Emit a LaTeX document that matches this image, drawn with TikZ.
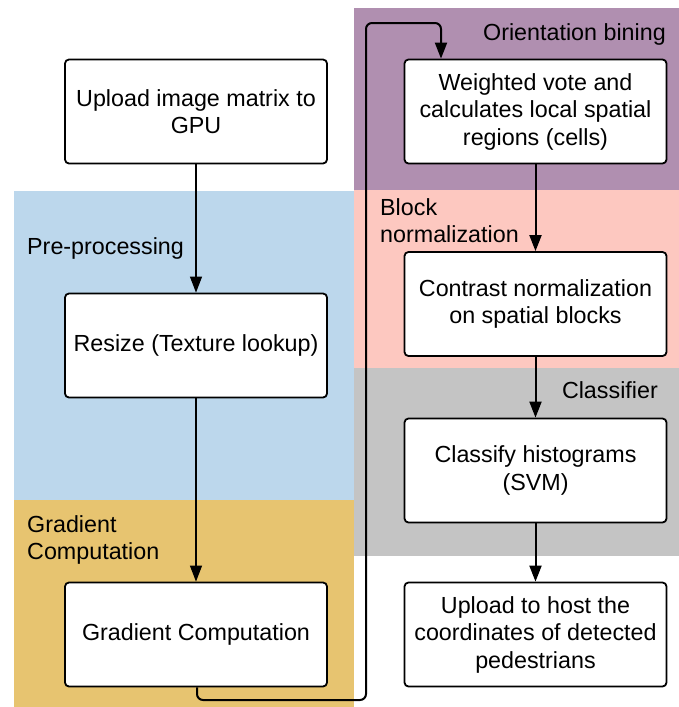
\documentclass[tikz,border=0pt]{standalone}
\usepackage{fontspec}
\setmainfont{Liberation Sans}
\usetikzlibrary{arrows.meta}

\definecolor{zoneblue}{RGB}{188,215,236}
\definecolor{zonegold}{RGB}{231,196,112}
\definecolor{zonepurple}{RGB}{176,143,176}
\definecolor{zonepink}{RGB}{253,200,192}
\definecolor{zonegray}{RGB}{196,196,196}

\begin{document}
\begin{tikzpicture}[x=1pt,y=-1pt,
  txt/.style={font=\fontsize{23.3}{27.5}\selectfont},
  stagebox/.style={txt, draw=black, line width=1.8pt, rounded corners=4pt,
    fill=white, minimum width=262pt, minimum height=104pt, align=center,
    inner sep=0pt},
  zonelabel/.style={txt, inner sep=0pt, align=left},
  flowthin/.style={line width=1.2pt, -{Triangle[width=12pt,length=16pt]}},
  flowthick/.style={line width=2pt, -{Triangle[width=12pt,length=16pt]}},
]
% canvas
\useasboundingbox (0,0) rectangle (679,707);
\fill[white] (0,0) rectangle (679,707);

% coloured zones
\fill[zoneblue]   (14,191) rectangle (354,500);
\fill[zonegold]   (14,500) rectangle (354,707);
\fill[zonepurple] (354,8)  rectangle (679,190);
\fill[zonepink]   (354,190) rectangle (679,368);
\fill[zonegray]   (354,368) rectangle (679,556);

% zone labels (base anchor sits on the last line)
\node[zonelabel, anchor=base east] (lorient) at (666,40) {Orientation bining};
\node[zonelabel, anchor=base west] (lblock) at (380,242.5) {Block\\normalization};
\node[zonelabel, anchor=base west] (lpre) at (27,254) {Pre-processing};
\node[zonelabel, anchor=base west] (lgrad) at (27,559.5) {Gradient\\Computation};
\node[zonelabel, anchor=base east] (lclass) at (658,398) {Classifier};

% processing stages
\node[stagebox] (up) at (196,111.5) {Upload image matrix to\\GPU};
\node[stagebox] (rs) at (196,345.5) {Resize (Texture lookup)};
\node[stagebox] (gc) at (196,634.5) {Gradient Computation};
\node[stagebox] (wv) at (535.5,111.5) {Weighted vote and\\calculates local spatial\\regions (cells)};
\node[stagebox] (cn) at (535.5,304) {Contrast normalization\\on spatial blocks};
\node[stagebox] (cl) at (535.5,470.5) {Classify histograms\\(SVM)};
\node[stagebox] (uh) at (535.5,634.5) {Upload to host the\\coordinates of detected\\pedestrians};

% connectors
\draw[flowthin] (up) -- (rs);
\draw[flowthin] (rs) -- (gc);
\draw[flowthick] (wv) -- (cn);
\draw[flowthick] (cn) -- (cl);
\draw[flowthick] (cl) -- (uh);

% loop from the left column to the right column
\coordinate (loopA) at (197,700);
\coordinate (loopB) at (366,700);
\coordinate (loopC) at (366,23);
\coordinate (loopD) at (441,23);
\draw[flowthick, rounded corners=6pt]
  (gc.south -| loopA) -- (loopA) -- (loopB) -- (loopC) -- (loopD) -- (loopD |- wv.north);
\end{tikzpicture}
\end{document}
